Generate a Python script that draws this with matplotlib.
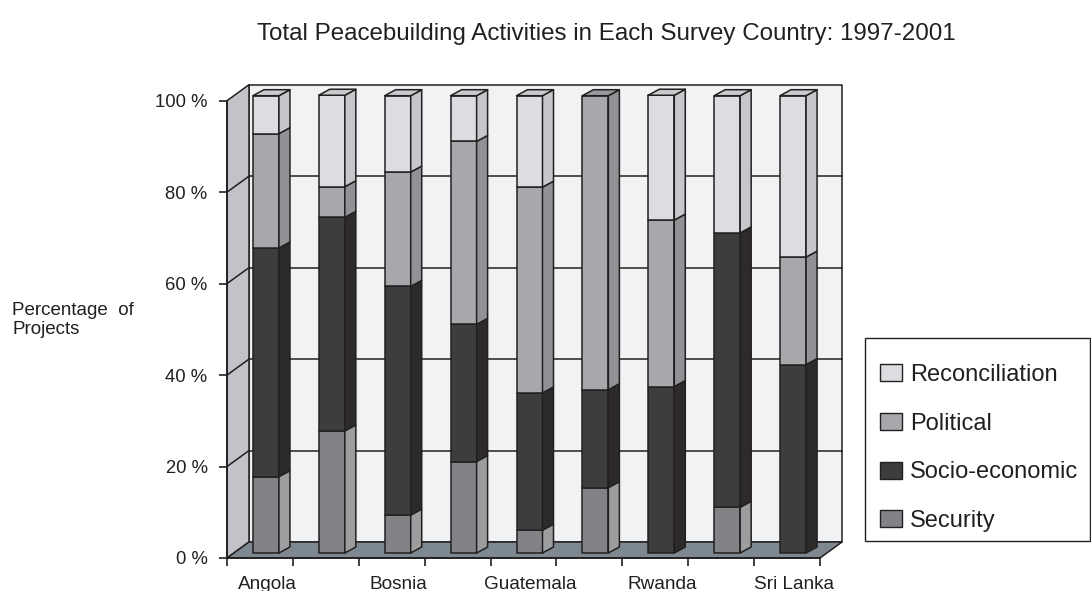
import matplotlib
matplotlib.use("Agg")
import matplotlib.pyplot as plt
from matplotlib.patches import Polygon, Patch, Rectangle
from matplotlib.transforms import ScaledTranslation
import numpy as np

plt.rcParams["font.family"] = ["Liberation Sans", "DejaVu Sans"]

# %% data
countries = ["Angola", "", "Bosnia", "", "Guatemala", "", "Rwanda", "", "Sri Lanka"]
series = ["Security", "Socio-economic", "Political", "Reconciliation"]
security = [16.7, 26.7, 8.3, 20, 5, 14.3, 0, 10, 0]
socio = [50, 46.7, 50, 30, 30, 21.4, 36.4, 60, 41.2]
political = [25, 6.7, 25, 40, 45, 64.3, 36.4, 0, 23.5]
reconciliation = [8.3, 20, 16.7, 10, 20, 0, 27.3, 30, 35.3]
yticks = [0, 20, 40, 60, 80, 100]

# front / side / top colours per series
front = ["#828386", "#3d3d3d", "#a7a8ab", "#dcdde0"]
side = ["#9c9d9f", "#2c2a2b", "#919295", "#c6c7ca"]
top = ["#8f9093", "#333333", "#98999c", "#c9cacd"]
ink = "#231f20"

# %% figure
W, H = 1091, 591
fig = plt.figure(figsize=(W / 100, H / 100), dpi=100)
ax = fig.add_axes([227 / W, 33 / H, 593 / W, 457.3 / H])
n = len(countries)
xmin, xmax = -0.5, n - 0.5
ax.set_xlim(xmin, xmax)
ax.set_ylim(0, 100)
ax.patch.set_visible(False)


def px(dx, dy):
    inv = ax.transData.inverted()
    a = inv.transform((0, 0))
    b = inv.transform((dx, dy))
    return b[0] - a[0], b[1] - a[1]


wdx, wdy = px(22, 16)      # wall depth
fdx, fdy = px(6, 5)        # bar front offset
bdx, bdy = px(11, 6)       # bar depth
bw, _ = px(26, 0)          # bar width


def poly(pts, fc, z, lw=1.1):
    ax.add_patch(Polygon(pts, closed=True, facecolor=fc, edgecolor=ink,
                         linewidth=lw, joinstyle="round", clip_on=False, zorder=z))


# walls
poly([(xmin + wdx, wdy), (xmax + wdx, wdy), (xmax + wdx, 100 + wdy),
      (xmin + wdx, 100 + wdy)], "#f1f2f4", 0.5)
poly([(xmin, 0), (xmin + wdx, wdy), (xmin + wdx, 100 + wdy), (xmin, 100)],
     "#c1c3c9", 0.6)
poly([(xmin, 0), (xmax, 0), (xmax + wdx, wdy), (xmin + wdx, wdy)], "#7e8890", 0.6)
for v in yticks[1:-1]:
    ax.plot([xmin + wdx, xmax + wdx], [v + wdy, v + wdy], color=ink, lw=1.1,
            zorder=0.55, clip_on=False)
    ax.plot([xmin, xmin + wdx], [v, v + wdy], color=ink, lw=1.1,
            zorder=0.65, clip_on=False)

# bars
data = np.array([security, socio, political, reconciliation])
bottoms = np.vstack([np.zeros(n), np.cumsum(data, axis=0)[:-1]])
for i in range(n):
    xl = i - bw / 2 + fdx
    xr = i + bw / 2 + fdx
    for s in range(len(series)):
        h = data[s, i]
        if h <= 0:
            continue
        y0 = bottoms[s, i] + fdy
        y1 = y0 + h
        poly([(xl, y0), (xr, y0), (xr, y1), (xl, y1)], front[s], 2 + i * 0.01)
        poly([(xr, y0), (xr + bdx, y0 + bdy), (xr + bdx, y1 + bdy), (xr, y1)],
             side[s], 2 + i * 0.01)
    s_top = max(s for s in range(len(series)) if data[s, i] > 0)
    yt = data[:, i].sum() + fdy
    poly([(xl, yt), (xr, yt), (xr + bdx, yt + bdy), (xl + bdx, yt + bdy)],
         top[s_top], 2 + i * 0.01)

# axes styling
for k in ["top", "right"]:
    ax.spines[k].set_visible(False)
for k in ["left", "bottom"]:
    ax.spines[k].set_color(ink)
    ax.spines[k].set_linewidth(1.3)
ax.set_yticks(yticks)
ax.set_yticklabels([f"{v} %" for v in yticks])
ax.tick_params(axis="y", direction="out", length=6, width=1.2, color=ink,
               pad=8, labelsize=13.3, labelcolor=ink)
ax.set_xticks(np.arange(xmin, xmax + 0.01, 1))
ax.set_xticklabels([])
ax.tick_params(axis="x", which="major", direction="out", length=6, width=1.2,
               color=ink)
ax.set_xticks(range(n), minor=True)
ax.set_xticklabels(countries, minor=True)
ax.tick_params(axis="x", which="minor", length=0, pad=13, labelsize=13.7,
               labelcolor=ink)
for lab in ax.get_xticklabels(minor=True):
    lab.set_transform(lab.get_transform() + ScaledTranslation(7 / 100, 0, fig.dpi_scale_trans))

fig.text(12 / W, 1 - 302 / H, "Percentage  of\nProjects", ha="left", va="top",
         fontsize=13.5, color=ink, linespacing=1.15)
fig.text(606 / W, 1 - 34 / H,
         "Total Peacebuilding Activities in Each Survey Country: 1997-2001",
         ha="center", va="center", fontsize=17.4, color=ink)

handles = [Patch(facecolor=front[s], edgecolor=ink, linewidth=1.0)
           for s in reversed(range(len(series)))]
leg = fig.legend(handles, list(reversed(series)), loc="upper left",
                 bbox_to_anchor=(880 / W, 1 - 364 / H), fontsize=17,
                 frameon=False, handlelength=0.93, handleheight=0.72,
                 handletextpad=0.34, labelspacing=1.13, borderpad=0,
                 borderaxespad=0)
for t in leg.get_texts():
    t.set_color(ink)
fig.add_artist(Rectangle((865 / W, 1 - 541 / H), (1090 - 865) / W, (541 - 338) / H,
                         transform=fig.transFigure, fill=False, edgecolor=ink,
                         linewidth=1.0))

fig.savefig("out.png", dpi=100)
